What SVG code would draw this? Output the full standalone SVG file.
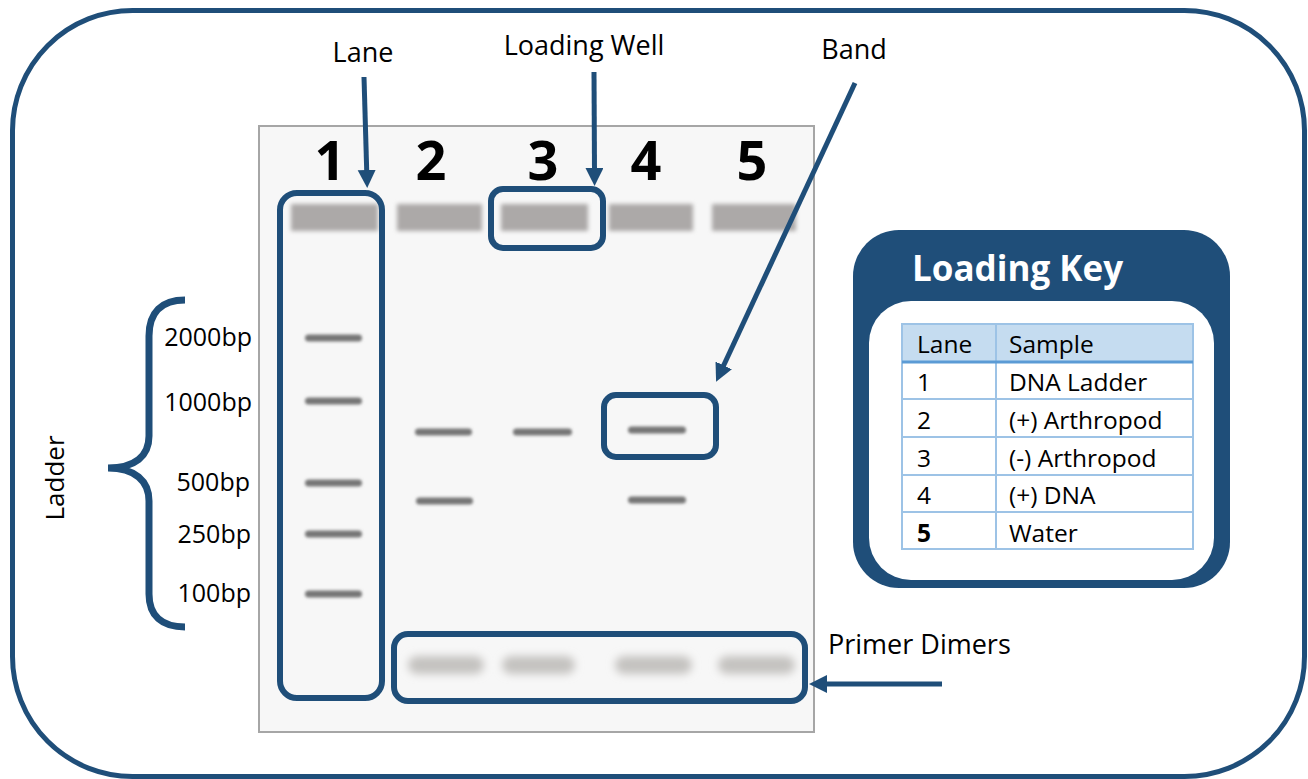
<svg xmlns="http://www.w3.org/2000/svg" width="1308" height="779" viewBox="0 0 1308 779">
<style>
.t{font-family:"Open Sans","Liberation Sans",sans-serif;fill:#000}
.hl{fill:none;stroke:#1F4E79;stroke-width:6}
.arr{stroke:#1F4E79;stroke-width:5;fill:none;marker-end:url(#ah)}
.well{fill:#ACA9A8;filter:url(#bw)}
.band{fill:#767676;filter:url(#bb)}
.pd{fill:#C4C2C0;filter:url(#bp)}
.grid{stroke:#9DC3E6;stroke-width:2;fill:none}
</style>
<defs>
<marker id="ah" markerUnits="userSpaceOnUse" markerWidth="20" markerHeight="20" refX="4" refY="9" orient="auto">
<path d="M0,0 L18,9 L0,18 z" fill="#1F4E79"/>
</marker>
<filter id="bw" x="-20%" y="-50%" width="140%" height="200%"><feGaussianBlur stdDeviation="2"/></filter>
<filter id="bb" x="-20%" y="-100%" width="140%" height="300%"><feGaussianBlur stdDeviation="1.5"/></filter>
<filter id="bp" x="-30%" y="-100%" width="160%" height="300%"><feGaussianBlur stdDeviation="4"/></filter>
</defs>
<rect width="1308" height="779" fill="#fff"/>
<rect id="frame" x="12.5" y="10.5" width="1292" height="766" rx="120" fill="#fff" stroke="#1F4E79" stroke-width="5"/>

<g id="gel">
<rect x="259" y="126" width="555" height="606" fill="#F7F7F7" stroke="#A6A6A6" stroke-width="2"/>
<g class="t" font-weight="bold" font-size="54" text-anchor="middle">
<text x="330" y="180">1</text>
<text x="431" y="180">2</text>
<text x="543" y="180">3</text>
<text x="646" y="180">4</text>
<text x="752" y="180">5</text>
</g>
<rect class="well" x="291" y="204" width="87" height="27"/>
<rect class="well" x="397" y="204" width="85" height="27"/>
<rect class="well" x="501" y="204" width="87" height="27"/>
<rect class="well" x="609" y="204" width="84" height="27"/>
<rect class="well" x="712" y="204" width="84" height="27"/>
<rect class="band" x="305" y="334.5" width="57" height="7" rx="3.5"/>
<rect class="band" x="305" y="397.5" width="57" height="7" rx="3.5"/>
<rect class="band" x="305" y="479.5" width="57" height="7" rx="3.5"/>
<rect class="band" x="305" y="530.5" width="57" height="7" rx="3.5"/>
<rect class="band" x="305" y="590.5" width="57" height="7" rx="3.5"/>
<rect class="band" x="415" y="428.5" width="57" height="7" rx="3.5"/>
<rect class="band" x="416" y="497.5" width="57" height="7" rx="3.5"/>
<rect class="band" x="513" y="428.5" width="59" height="7" rx="3.5"/>
<rect class="band" x="628" y="426.5" width="58" height="7" rx="3.5"/>
<rect class="band" x="628" y="496.5" width="58" height="7" rx="3.5"/>
<rect class="pd" x="408" y="656" width="76" height="18" rx="9"/>
<rect class="pd" x="502" y="656" width="73" height="18" rx="9"/>
<rect class="pd" x="615" y="656" width="77" height="18" rx="9"/>
<rect class="pd" x="718" y="656" width="77" height="18" rx="9"/>
</g>

<g id="ladder-labels" class="t" font-size="25" text-anchor="end">
<text x="252" y="346">2000bp</text>
<text x="252" y="411">1000bp</text>
<text x="250" y="491">500bp</text>
<text x="251" y="543">250bp</text>
<text x="251" y="602">100bp</text>
</g>

<g id="ladder-brace">
<path d="M185,300 C162,300 149,312 149,336 L149,436 C149,456 135,468 108,468 C135,468 149,481 149,501 L149,594 C149,616 162,627 185,627" fill="none" stroke="#1F4E79" stroke-width="7"/>
<text class="t" font-size="26" text-anchor="middle" transform="translate(64,478) rotate(-90)">Ladder</text>
</g>

<g id="highlight-lane"><rect class="hl" x="280" y="193" width="102" height="505" rx="17"/></g>
<g id="highlight-well"><rect class="hl" x="491" y="189" width="112" height="59" rx="12"/></g>
<g id="highlight-band"><rect class="hl" x="604" y="395" width="112" height="62" rx="12"/></g>
<g id="highlight-primer"><rect class="hl" x="394" y="634" width="411" height="67" rx="14"/></g>

<g id="labels" class="t" font-size="27">
<text x="363" y="62" text-anchor="middle">Lane</text>
<text x="584" y="55" text-anchor="middle">Loading Well</text>
<text x="854" y="59" text-anchor="middle">Band</text>
<text x="828" y="654">Primer Dimers</text>
</g>

<g id="connectors">
<path class="arr" d="M364,77 L366.8,174"/>
<path class="arr" d="M594,72 L594.5,172"/>
<path class="arr" d="M855,83 L722,369"/>
<path class="arr" d="M942,684 L823,684"/>
</g>

<g id="loading-key">
<rect x="853" y="230" width="377" height="358" rx="46" fill="#1F4E79"/>
<rect x="869" y="301" width="345" height="279" rx="42" fill="#fff"/>
<text class="t" x="912" y="281" font-size="35" font-weight="bold" style="fill:#fff">Loading Key</text>
<rect x="902" y="324" width="291" height="37" fill="#C5DCF0"/>
<rect class="grid" x="902" y="324" width="291" height="225"/>
<line class="grid" x1="996" y1="324" x2="996" y2="549"/>
<line class="grid" x1="902" y1="399" x2="1193" y2="399"/>
<line class="grid" x1="902" y1="437" x2="1193" y2="437"/>
<line class="grid" x1="902" y1="475" x2="1193" y2="475"/>
<line class="grid" x1="902" y1="512" x2="1193" y2="512"/>
<line x1="902" y1="362" x2="1193" y2="362" stroke="#5B9BD5" stroke-width="3"/>
<g class="t" font-size="24.5">
<text x="917" y="353">Lane</text><text x="1009" y="353">Sample</text>
<text x="917" y="391">1</text><text x="1009" y="391">DNA Ladder</text>
<text x="917" y="429">2</text><text x="1009" y="429">(+) Arthropod</text>
<text x="917" y="467">3</text><text x="1009" y="467">(-) Arthropod</text>
<text x="917" y="504">4</text><text x="1009" y="504">(+) DNA</text>
<text x="917" y="542" font-weight="bold">5</text><text x="1009" y="542">Water</text>
</g>
</g>
</svg>
